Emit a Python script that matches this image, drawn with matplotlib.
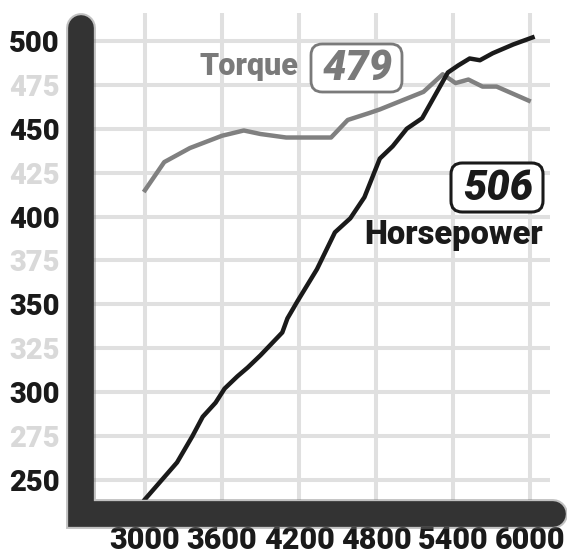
import matplotlib.pyplot as plt
import numpy as np
from matplotlib.lines import Line2D
from matplotlib.patches import FancyBboxPatch

# valores
rpm_torque = [3000, 3150, 3350, 3600, 3770, 3900, 4100, 4450, 4580, 4750, 4830,
              5170, 5320, 5420, 5520, 5630, 5740, 5990]
torque = [415, 431, 439, 446, 449, 447, 445, 445, 455, 459, 461,
          471, 481, 476, 478, 474, 474, 466]

rpm_hp = [3000, 3250, 3370, 3450, 3550, 3620, 3720, 3800, 3900, 4070, 4110, 4190,
          4340, 4480, 4600, 4710, 4830, 4930, 5040, 5160, 5360, 5440, 5530, 5610,
          5710, 5870, 6020]
hp = [239, 260, 275, 286, 294, 302, 309, 314, 321, 334, 342, 352,
      370, 391, 399, 411, 433, 440, 450, 456, 482, 486, 490, 489,
      493, 498, 502]

x_ticks = [3000, 3600, 4200, 4800, 5400, 6000]
y_ticks = [250, 275, 300, 325, 350, 375, 400, 425, 450, 475, 500]
pico_torque = "479"
pico_hp = "506"

W, H = 567, 557
fuente = ['Roboto', 'DejaVu Sans']
peso = 'black'

def fx(x):
    return x / W

def fy(y):
    return 1 - y / H

fig = plt.figure(figsize=(W / 100, H / 100), dpi=100)
ax = fig.add_axes([fx(93), fy(500), fx(550) - fx(93), fy(13) - fy(500)])
ax.set_xlim(2595, 6156)
ax.set_ylim(238.6, 515.9)

for s in ax.spines.values():
    s.set_visible(False)
ax.set_xticks(x_ticks)
ax.set_yticks(y_ticks)
ax.grid(True, color='#e0e0e0', linewidth=2.9)
ax.set_axisbelow(True)
ax.tick_params(length=0)
ax.tick_params(axis='y', pad=24)
ax.tick_params(axis='x', pad=18)
ax.set_xticklabels([str(v) for v in x_ticks], fontfamily=fuente, fontweight=peso,
                   fontsize=22, color='#1a1a1a')
ax.set_yticklabels([str(v) for v in y_ticks], fontfamily=fuente, fontweight=peso,
                   fontsize=21)
for lab, v in zip(ax.get_yticklabels(), y_ticks):
    lab.set_color('#1a1a1a' if v % 50 == 0 else '#d9d9d9')

ax.plot(rpm_torque, torque, color='#808080', linewidth=3.2, solid_joinstyle='round')
ax.plot(rpm_hp, hp, color='#1a1a1a', linewidth=3.2, solid_joinstyle='round')

# eje grueso con sombra
for lw, col, a in [(21.5, '#777777', 0.45), (18.5, '#333333', 1.0)]:
    barra = Line2D([fx(80.5), fx(80.5), fx(553)], [fy(28), fy(514), fy(514)],
                   transform=fig.transFigure, color=col, alpha=a, linewidth=lw,
                   solid_capstyle='round', solid_joinstyle='miter')
    fig.add_artist(barra)

# etiquetas
fig.text(fx(249), fy(66), "Torque", fontfamily=fuente, fontweight=peso,
         fontsize=22, color='#7a7a7a', ha='center', va='center')
caja_t = FancyBboxPatch((fx(311), fy(92)), fx(402) - fx(311), fy(44) - fy(92),
                        boxstyle='round,pad=0,rounding_size=0.02',
                        transform=fig.transFigure, facecolor='white',
                        edgecolor='#7a7a7a', linewidth=2)
fig.add_artist(caja_t)
fig.text(fx(358), fy(68), pico_torque, fontfamily=fuente, fontweight=peso,
         fontstyle='italic', fontsize=30, color='#7a7a7a', ha='center', va='center')

caja_h = FancyBboxPatch((fx(451), fy(212)), fx(543) - fx(451), fy(163) - fy(212),
                        boxstyle='round,pad=0,rounding_size=0.02',
                        transform=fig.transFigure, facecolor='white',
                        edgecolor='#1a1a1a', linewidth=2.2)
fig.add_artist(caja_h)
fig.text(fx(498), fy(188), pico_hp, fontfamily=fuente, fontweight=peso,
         fontstyle='italic', fontsize=30, color='#1a1a1a', ha='center', va='center')
fig.text(fx(454), fy(235), "Horsepower", fontfamily=fuente, fontweight=peso,
         fontsize=23.5, color='#1a1a1a', ha='center', va='center')

plt.savefig('out.png', dpi=100)
